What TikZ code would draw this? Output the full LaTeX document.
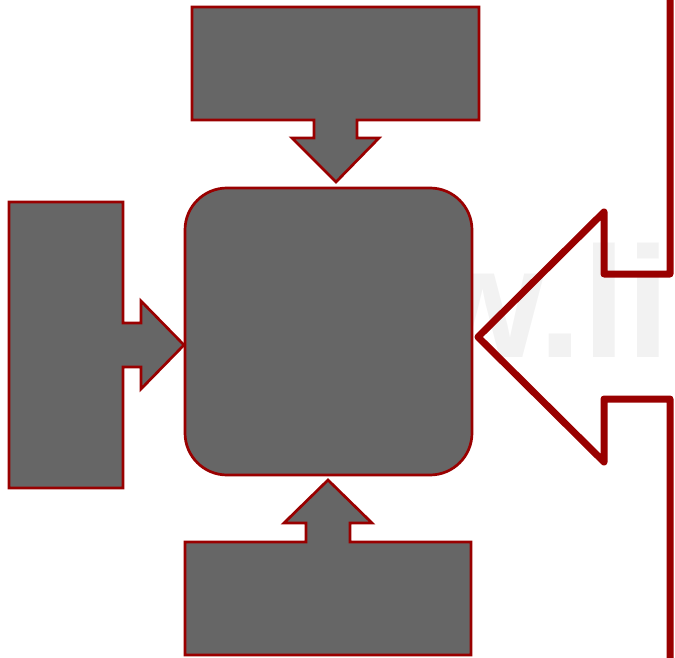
\documentclass[tikz,border=0pt]{standalone}
\usepackage{fontspec}
\newfontfamily\wmfont{Liberation Sans}
\definecolor{boxfill}{HTML}{666666}
\definecolor{boxline}{HTML}{990000}
\definecolor{wmgray}{HTML}{F2F2F2}
\tikzset{
  shapebox/.style={fill=boxfill, draw=boxline, line width=2.7pt, line join=miter},
  bigarrow/.style={draw=boxline, line width=7pt, line join=round, line cap=round},
}
\begin{document}
\begin{tikzpicture}[x=1pt,y=-1pt]
\useasboundingbox (0,0) rectangle (675,658);
\clip (0,0) rectangle (675,658);
% watermark
\node[anchor=base west, inner sep=0pt, text=wmgray, font=\wmfont\bfseries\fontsize{158}{158}\selectfont] (wm) at (421,357) {w.li};
% right outlined arrow
\draw[bigarrow] (670,-10) -- (670,274) -- (604,274) -- (604,212) -- (478,337) -- (604,462) -- (604,399) -- (670,399) -- (670,670);
% top box with arrow
\draw[shapebox] (192,7) -- (479,7) -- (479,120) -- (357,120) -- (357,138) -- (379,138) -- (336,182) -- (292,138) -- (314,138) -- (314,120) -- (192,120) -- cycle;
% left box with arrow
\draw[shapebox] (9,202) -- (123,202) -- (123,323) -- (141,323) -- (141,301) -- (184,345) -- (141,389) -- (141,367) -- (123,367) -- (123,488) -- (9,488) -- cycle;
% bottom box with arrow
\draw[shapebox] (185,655) -- (185,542) -- (306,542) -- (306,523) -- (284,523) -- (328,480) -- (372,523) -- (350,523) -- (350,542) -- (471,542) -- (471,655) -- cycle;
% centre rounded box
\node[shapebox, rounded corners=42pt, minimum width=287pt, minimum height=287pt, inner sep=0pt, outer sep=0pt] (centre) at (328.5,331.5) {};
\end{tikzpicture}
\end{document}
